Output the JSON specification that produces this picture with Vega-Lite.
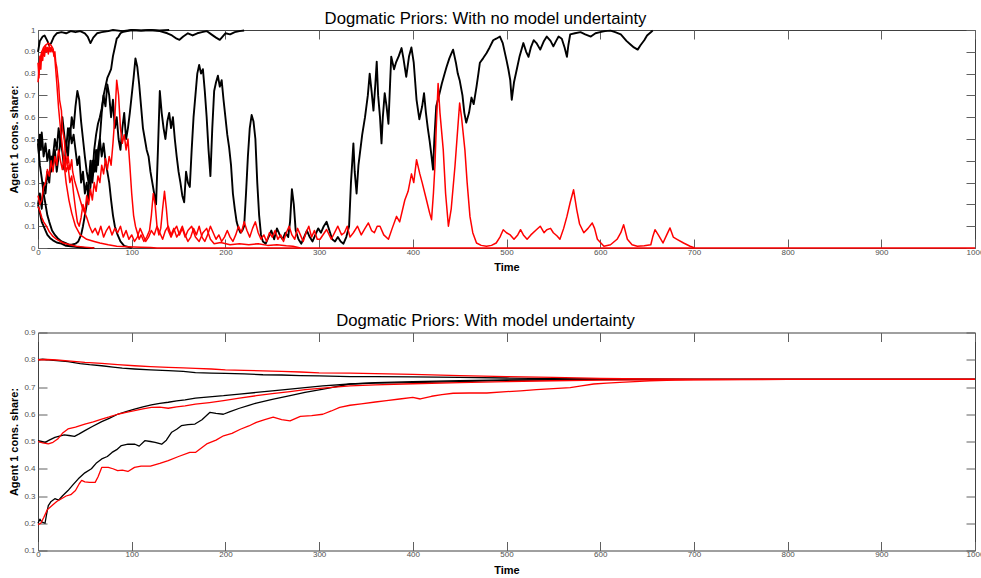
{
  "$schema": "https://vega.github.io/schema/vega-lite/v6.json",
  "background": "white",
  "padding": {"left": 8, "top": 10, "right": 0, "bottom": 0},
  "spacing": 39.5,
  "config": {
    "font": "Liberation Sans",
    "view": {"stroke": "#404040", "strokeWidth": 1},
    "axis": {
      "domain": false, "grid": false, "ticks": true,
      "tickColor": "#606060", "tickSize": -9, "tickWidth": 1,
      "labelFont": "Liberation Sans", "labelFontSize": 8, "labelColor": "#505050",
      "labelFlush": false, "labelOverlap": false,
      "titleFont": "Liberation Sans", "titleFontSize": 11, "titleFontWeight": "bold", "titleColor": "#000000"
    },
    "axisX": {"labelPadding": 9, "titlePadding": 5.5},
    "axisY": {"labelPadding": 12},
    "title": {"font": "Liberation Sans", "fontSize": 16.7, "fontWeight": "normal", "color": "#000000", "offset": -1.5, "dx": -21}
  },
  "datasets": {
    "noUncertainty": [
      {"set":"A","run":1,"t":0,"v":0.9},{"set":"A","run":1,"t":2,"v":0.95},{"set":"A","run":1,"t":5,"v":0.97},{"set":"A","run":1,"t":7,"v":0.975},{"set":"A","run":1,"t":10,"v":0.95},{"set":"A","run":1,"t":12,"v":0.93},{"set":"A","run":1,"t":14,"v":0.94},{"set":"A","run":1,"t":17,"v":0.97},{"set":"A","run":1,"t":20,"v":0.985},{"set":"A","run":1,"t":25,"v":0.99},{"set":"A","run":1,"t":30,"v":0.985},{"set":"A","run":1,"t":35,"v":0.995},{"set":"A","run":1,"t":40,"v":0.99},{"set":"A","run":1,"t":45,"v":0.995},{"set":"A","run":1,"t":50,"v":0.985},{"set":"A","run":1,"t":53,"v":0.97},{"set":"A","run":1,"t":56,"v":0.94},{"set":"A","run":1,"t":59,"v":0.965},{"set":"A","run":1,"t":63,"v":0.985},{"set":"A","run":1,"t":68,"v":0.99},{"set":"A","run":1,"t":75,"v":0.995},{"set":"A","run":1,"t":80,"v":1},{"set":"A","run":1,"t":90,"v":0.995},{"set":"A","run":1,"t":100,"v":1},{"set":"A","run":1,"t":110,"v":0.997},{"set":"A","run":1,"t":120,"v":1},{"set":"A","run":1,"t":130,"v":0.995},{"set":"A","run":1,"t":138,"v":0.985},{"set":"A","run":1,"t":143,"v":0.975},{"set":"A","run":1,"t":148,"v":0.96},{"set":"A","run":1,"t":151,"v":0.955},{"set":"A","run":1,"t":155,"v":0.97},{"set":"A","run":1,"t":160,"v":0.985},{"set":"A","run":1,"t":165,"v":0.975},{"set":"A","run":1,"t":170,"v":0.985},{"set":"A","run":1,"t":175,"v":0.99},{"set":"A","run":1,"t":180,"v":0.995},{"set":"A","run":1,"t":185,"v":0.98},{"set":"A","run":1,"t":190,"v":0.965},{"set":"A","run":1,"t":194,"v":0.955},{"set":"A","run":1,"t":197,"v":0.97},{"set":"A","run":1,"t":200,"v":0.985},{"set":"A","run":1,"t":205,"v":0.98},{"set":"A","run":1,"t":210,"v":0.99},{"set":"A","run":1,"t":215,"v":0.995},{"set":"A","run":1,"t":220,"v":0.998},

      {"set":"A","run":2,"t":0,"v":0.5},{"set":"A","run":2,"t":1,"v":0.43},{"set":"A","run":2,"t":2,"v":0.52},{"set":"A","run":2,"t":3,"v":0.45},{"set":"A","run":2,"t":4,"v":0.53},{"set":"A","run":2,"t":6,"v":0.42},{"set":"A","run":2,"t":8,"v":0.48},{"set":"A","run":2,"t":10,"v":0.4},{"set":"A","run":2,"t":12,"v":0.45},{"set":"A","run":2,"t":14,"v":0.35},{"set":"A","run":2,"t":16,"v":0.42},{"set":"A","run":2,"t":18,"v":0.5},{"set":"A","run":2,"t":20,"v":0.45},{"set":"A","run":2,"t":22,"v":0.55},{"set":"A","run":2,"t":24,"v":0.48},{"set":"A","run":2,"t":26,"v":0.6},{"set":"A","run":2,"t":28,"v":0.52},{"set":"A","run":2,"t":30,"v":0.45},{"set":"A","run":2,"t":32,"v":0.55},{"set":"A","run":2,"t":34,"v":0.5},{"set":"A","run":2,"t":36,"v":0.6},{"set":"A","run":2,"t":38,"v":0.55},{"set":"A","run":2,"t":40,"v":0.65},{"set":"A","run":2,"t":42,"v":0.72},{"set":"A","run":2,"t":44,"v":0.68},{"set":"A","run":2,"t":46,"v":0.58},{"set":"A","run":2,"t":48,"v":0.5},{"set":"A","run":2,"t":50,"v":0.42},{"set":"A","run":2,"t":52,"v":0.35},{"set":"A","run":2,"t":54,"v":0.3},{"set":"A","run":2,"t":56,"v":0.4},{"set":"A","run":2,"t":58,"v":0.33},{"set":"A","run":2,"t":60,"v":0.45},{"set":"A","run":2,"t":62,"v":0.52},{"set":"A","run":2,"t":64,"v":0.57},{"set":"A","run":2,"t":66,"v":0.6},{"set":"A","run":2,"t":68,"v":0.64},{"set":"A","run":2,"t":70,"v":0.7},{"set":"A","run":2,"t":72,"v":0.74},{"set":"A","run":2,"t":74,"v":0.78},{"set":"A","run":2,"t":76,"v":0.8},{"set":"A","run":2,"t":78,"v":0.82},{"set":"A","run":2,"t":80,"v":0.88},{"set":"A","run":2,"t":82,"v":0.92},{"set":"A","run":2,"t":84,"v":0.96},{"set":"A","run":2,"t":86,"v":0.97},{"set":"A","run":2,"t":88,"v":0.985},{"set":"A","run":2,"t":90,"v":0.99},{"set":"A","run":2,"t":95,"v":0.995},{"set":"A","run":2,"t":100,"v":1},{"set":"A","run":2,"t":110,"v":0.998},{"set":"A","run":2,"t":120,"v":1},{"set":"A","run":2,"t":130,"v":0.998},{"set":"A","run":2,"t":140,"v":1},

      {"set":"A","run":3,"t":0,"v":0.2},{"set":"A","run":3,"t":2,"v":0.25},{"set":"A","run":3,"t":4,"v":0.18},{"set":"A","run":3,"t":6,"v":0.3},{"set":"A","run":3,"t":8,"v":0.25},{"set":"A","run":3,"t":10,"v":0.35},{"set":"A","run":3,"t":12,"v":0.3},{"set":"A","run":3,"t":14,"v":0.42},{"set":"A","run":3,"t":16,"v":0.38},{"set":"A","run":3,"t":18,"v":0.45},{"set":"A","run":3,"t":20,"v":0.35},{"set":"A","run":3,"t":22,"v":0.42},{"set":"A","run":3,"t":24,"v":0.5},{"set":"A","run":3,"t":26,"v":0.44},{"set":"A","run":3,"t":28,"v":0.36},{"set":"A","run":3,"t":30,"v":0.48},{"set":"A","run":3,"t":32,"v":0.42},{"set":"A","run":3,"t":34,"v":0.55},{"set":"A","run":3,"t":36,"v":0.48},{"set":"A","run":3,"t":38,"v":0.52},{"set":"A","run":3,"t":40,"v":0.45},{"set":"A","run":3,"t":42,"v":0.38},{"set":"A","run":3,"t":44,"v":0.42},{"set":"A","run":3,"t":46,"v":0.3},{"set":"A","run":3,"t":48,"v":0.35},{"set":"A","run":3,"t":50,"v":0.25},{"set":"A","run":3,"t":52,"v":0.3},{"set":"A","run":3,"t":54,"v":0.22},{"set":"A","run":3,"t":56,"v":0.28},{"set":"A","run":3,"t":58,"v":0.4},{"set":"A","run":3,"t":60,"v":0.35},{"set":"A","run":3,"t":62,"v":0.45},{"set":"A","run":3,"t":64,"v":0.38},{"set":"A","run":3,"t":66,"v":0.5},{"set":"A","run":3,"t":68,"v":0.62},{"set":"A","run":3,"t":70,"v":0.7},{"set":"A","run":3,"t":72,"v":0.65},{"set":"A","run":3,"t":74,"v":0.75},{"set":"A","run":3,"t":76,"v":0.7},{"set":"A","run":3,"t":78,"v":0.6},{"set":"A","run":3,"t":80,"v":0.68},{"set":"A","run":3,"t":82,"v":0.55},{"set":"A","run":3,"t":84,"v":0.6},{"set":"A","run":3,"t":86,"v":0.5},{"set":"A","run":3,"t":88,"v":0.45},{"set":"A","run":3,"t":90,"v":0.55},{"set":"A","run":3,"t":92,"v":0.62},{"set":"A","run":3,"t":94,"v":0.5},{"set":"A","run":3,"t":96,"v":0.55},{"set":"A","run":3,"t":98,"v":0.62},{"set":"A","run":3,"t":100,"v":0.7},{"set":"A","run":3,"t":102,"v":0.78},{"set":"A","run":3,"t":104,"v":0.87},{"set":"A","run":3,"t":106,"v":0.83},{"set":"A","run":3,"t":108,"v":0.75},{"set":"A","run":3,"t":110,"v":0.65},{"set":"A","run":3,"t":112,"v":0.55},{"set":"A","run":3,"t":114,"v":0.5},{"set":"A","run":3,"t":116,"v":0.45},{"set":"A","run":3,"t":118,"v":0.42},{"set":"A","run":3,"t":120,"v":0.35},{"set":"A","run":3,"t":122,"v":0.3},{"set":"A","run":3,"t":124,"v":0.25},{"set":"A","run":3,"t":126,"v":0.2},{"set":"A","run":3,"t":128,"v":0.45},{"set":"A","run":3,"t":130,"v":0.72},{"set":"A","run":3,"t":132,"v":0.62},{"set":"A","run":3,"t":134,"v":0.55},{"set":"A","run":3,"t":136,"v":0.5},{"set":"A","run":3,"t":138,"v":0.58},{"set":"A","run":3,"t":140,"v":0.62},{"set":"A","run":3,"t":142,"v":0.55},{"set":"A","run":3,"t":144,"v":0.6},{"set":"A","run":3,"t":146,"v":0.5},{"set":"A","run":3,"t":148,"v":0.42},{"set":"A","run":3,"t":150,"v":0.35},{"set":"A","run":3,"t":152,"v":0.3},{"set":"A","run":3,"t":154,"v":0.24},{"set":"A","run":3,"t":156,"v":0.21},{"set":"A","run":3,"t":158,"v":0.35},{"set":"A","run":3,"t":160,"v":0.3},{"set":"A","run":3,"t":162,"v":0.28},{"set":"A","run":3,"t":164,"v":0.45},{"set":"A","run":3,"t":166,"v":0.6},{"set":"A","run":3,"t":168,"v":0.7},{"set":"A","run":3,"t":170,"v":0.8},{"set":"A","run":3,"t":172,"v":0.84},{"set":"A","run":3,"t":174,"v":0.8},{"set":"A","run":3,"t":176,"v":0.82},{"set":"A","run":3,"t":178,"v":0.72},{"set":"A","run":3,"t":180,"v":0.6},{"set":"A","run":3,"t":182,"v":0.45},{"set":"A","run":3,"t":184,"v":0.33},{"set":"A","run":3,"t":186,"v":0.55},{"set":"A","run":3,"t":188,"v":0.72},{"set":"A","run":3,"t":190,"v":0.76},{"set":"A","run":3,"t":192,"v":0.79},{"set":"A","run":3,"t":194,"v":0.74},{"set":"A","run":3,"t":196,"v":0.77},{"set":"A","run":3,"t":198,"v":0.68},{"set":"A","run":3,"t":200,"v":0.6},{"set":"A","run":3,"t":202,"v":0.52},{"set":"A","run":3,"t":204,"v":0.46},{"set":"A","run":3,"t":206,"v":0.38},{"set":"A","run":3,"t":208,"v":0.25},{"set":"A","run":3,"t":210,"v":0.18},{"set":"A","run":3,"t":212,"v":0.12},{"set":"A","run":3,"t":214,"v":0.09},{"set":"A","run":3,"t":216,"v":0.07},{"set":"A","run":3,"t":218,"v":0.08},{"set":"A","run":3,"t":220,"v":0.1},{"set":"A","run":3,"t":222,"v":0.25},{"set":"A","run":3,"t":224,"v":0.42},{"set":"A","run":3,"t":226,"v":0.55},{"set":"A","run":3,"t":228,"v":0.61},{"set":"A","run":3,"t":230,"v":0.58},{"set":"A","run":3,"t":232,"v":0.5},{"set":"A","run":3,"t":234,"v":0.3},{"set":"A","run":3,"t":236,"v":0.15},{"set":"A","run":3,"t":238,"v":0.06},{"set":"A","run":3,"t":240,"v":0.03},{"set":"A","run":3,"t":243,"v":0.02},{"set":"A","run":3,"t":246,"v":0.05},{"set":"A","run":3,"t":249,"v":0.08},{"set":"A","run":3,"t":252,"v":0.04},{"set":"A","run":3,"t":255,"v":0.09},{"set":"A","run":3,"t":258,"v":0.06},{"set":"A","run":3,"t":261,"v":0.04},{"set":"A","run":3,"t":264,"v":0.07},{"set":"A","run":3,"t":267,"v":0.05},{"set":"A","run":3,"t":269,"v":0.12},{"set":"A","run":3,"t":271,"v":0.27},{"set":"A","run":3,"t":273,"v":0.2},{"set":"A","run":3,"t":275,"v":0.08},{"set":"A","run":3,"t":278,"v":0.04},{"set":"A","run":3,"t":281,"v":0.02},{"set":"A","run":3,"t":284,"v":0.05},{"set":"A","run":3,"t":287,"v":0.08},{"set":"A","run":3,"t":290,"v":0.05},{"set":"A","run":3,"t":293,"v":0.03},{"set":"A","run":3,"t":296,"v":0.06},{"set":"A","run":3,"t":299,"v":0.09},{"set":"A","run":3,"t":302,"v":0.07},{"set":"A","run":3,"t":305,"v":0.1},{"set":"A","run":3,"t":308,"v":0.12},{"set":"A","run":3,"t":311,"v":0.08},{"set":"A","run":3,"t":314,"v":0.04},{"set":"A","run":3,"t":317,"v":0.03},{"set":"A","run":3,"t":320,"v":0.05},{"set":"A","run":3,"t":323,"v":0.03},{"set":"A","run":3,"t":326,"v":0.02},{"set":"A","run":3,"t":329,"v":0.05},{"set":"A","run":3,"t":332,"v":0.1},{"set":"A","run":3,"t":334,"v":0.3},{"set":"A","run":3,"t":336.6,"v":0.48},{"set":"A","run":3,"t":338,"v":0.35},{"set":"A","run":3,"t":340,"v":0.25},{"set":"A","run":3,"t":342,"v":0.38},{"set":"A","run":3,"t":344,"v":0.45},{"set":"A","run":3,"t":346,"v":0.52},{"set":"A","run":3,"t":349,"v":0.6},{"set":"A","run":3,"t":352,"v":0.7},{"set":"A","run":3,"t":354,"v":0.8},{"set":"A","run":3,"t":356,"v":0.72},{"set":"A","run":3,"t":358,"v":0.63},{"set":"A","run":3,"t":360,"v":0.75},{"set":"A","run":3,"t":361.5,"v":0.855},{"set":"A","run":3,"t":363,"v":0.7},{"set":"A","run":3,"t":365,"v":0.6},{"set":"A","run":3,"t":366.6,"v":0.48},{"set":"A","run":3,"t":368,"v":0.6},{"set":"A","run":3,"t":370,"v":0.71},{"set":"A","run":3,"t":372,"v":0.65},{"set":"A","run":3,"t":374,"v":0.57},{"set":"A","run":3,"t":376,"v":0.78},{"set":"A","run":3,"t":377,"v":0.878},{"set":"A","run":3,"t":380,"v":0.82},{"set":"A","run":3,"t":382,"v":0.85},{"set":"A","run":3,"t":385,"v":0.88},{"set":"A","run":3,"t":388,"v":0.917},{"set":"A","run":3,"t":390,"v":0.87},{"set":"A","run":3,"t":393,"v":0.785},{"set":"A","run":3,"t":396,"v":0.88},{"set":"A","run":3,"t":398.5,"v":0.92},{"set":"A","run":3,"t":401,"v":0.85},{"set":"A","run":3,"t":404,"v":0.68},{"set":"A","run":3,"t":407,"v":0.59},{"set":"A","run":3,"t":410,"v":0.65},{"set":"A","run":3,"t":412,"v":0.71},{"set":"A","run":3,"t":414,"v":0.62},{"set":"A","run":3,"t":416,"v":0.55},{"set":"A","run":3,"t":418,"v":0.49},{"set":"A","run":3,"t":420,"v":0.42},{"set":"A","run":3,"t":421.6,"v":0.36},{"set":"A","run":3,"t":423,"v":0.5},{"set":"A","run":3,"t":425,"v":0.65},{"set":"A","run":3,"t":428,"v":0.7},{"set":"A","run":3,"t":431,"v":0.755},{"set":"A","run":3,"t":434,"v":0.8},{"set":"A","run":3,"t":436,"v":0.83},{"set":"A","run":3,"t":439,"v":0.87},{"set":"A","run":3,"t":441,"v":0.89},{"set":"A","run":3,"t":443,"v":0.91},{"set":"A","run":3,"t":446,"v":0.85},{"set":"A","run":3,"t":448,"v":0.8},{"set":"A","run":3,"t":450,"v":0.77},{"set":"A","run":3,"t":453,"v":0.7},{"set":"A","run":3,"t":455,"v":0.62},{"set":"A","run":3,"t":457,"v":0.575},{"set":"A","run":3,"t":460,"v":0.62},{"set":"A","run":3,"t":462.6,"v":0.69},{"set":"A","run":3,"t":465,"v":0.66},{"set":"A","run":3,"t":468,"v":0.74},{"set":"A","run":3,"t":470,"v":0.8},{"set":"A","run":3,"t":471.6,"v":0.85},{"set":"A","run":3,"t":475,"v":0.87},{"set":"A","run":3,"t":478.6,"v":0.893},{"set":"A","run":3,"t":482,"v":0.92},{"set":"A","run":3,"t":485.8,"v":0.953},{"set":"A","run":3,"t":489,"v":0.96},{"set":"A","run":3,"t":493,"v":0.97},{"set":"A","run":3,"t":496,"v":0.94},{"set":"A","run":3,"t":500,"v":0.862},{"set":"A","run":3,"t":502,"v":0.82},{"set":"A","run":3,"t":504,"v":0.77},{"set":"A","run":3,"t":505.6,"v":0.68},{"set":"A","run":3,"t":508,"v":0.76},{"set":"A","run":3,"t":511,"v":0.82},{"set":"A","run":3,"t":514,"v":0.88},{"set":"A","run":3,"t":518,"v":0.94},{"set":"A","run":3,"t":521,"v":0.9},{"set":"A","run":3,"t":523.5,"v":0.877},{"set":"A","run":3,"t":526,"v":0.92},{"set":"A","run":3,"t":529,"v":0.953},{"set":"A","run":3,"t":532,"v":0.94},{"set":"A","run":3,"t":536,"v":0.91},{"set":"A","run":3,"t":540,"v":0.95},{"set":"A","run":3,"t":543,"v":0.97},{"set":"A","run":3,"t":547,"v":0.95},{"set":"A","run":3,"t":550,"v":0.925},{"set":"A","run":3,"t":553,"v":0.95},{"set":"A","run":3,"t":555.6,"v":0.97},{"set":"A","run":3,"t":559,"v":0.96},{"set":"A","run":3,"t":562,"v":0.92},{"set":"A","run":3,"t":564.5,"v":0.877},{"set":"A","run":3,"t":566,"v":0.93},{"set":"A","run":3,"t":568,"v":0.98},{"set":"A","run":3,"t":573,"v":0.985},{"set":"A","run":3,"t":579,"v":0.99},{"set":"A","run":3,"t":584,"v":0.98},{"set":"A","run":3,"t":590,"v":0.97},{"set":"A","run":3,"t":595,"v":0.985},{"set":"A","run":3,"t":600,"v":0.99},{"set":"A","run":3,"t":605,"v":0.995},{"set":"A","run":3,"t":611,"v":0.997},{"set":"A","run":3,"t":616,"v":0.99},{"set":"A","run":3,"t":622,"v":0.98},{"set":"A","run":3,"t":625,"v":0.965},{"set":"A","run":3,"t":628,"v":0.95},{"set":"A","run":3,"t":632,"v":0.935},{"set":"A","run":3,"t":636,"v":0.92},{"set":"A","run":3,"t":640,"v":0.91},{"set":"A","run":3,"t":643,"v":0.93},{"set":"A","run":3,"t":647,"v":0.953},{"set":"A","run":3,"t":650,"v":0.975},{"set":"A","run":3,"t":654,"v":0.99},{"set":"A","run":3,"t":656,"v":0.998},

      {"set":"A","run":4,"t":0,"v":0.2},{"set":"A","run":4,"t":2,"v":0.16},{"set":"A","run":4,"t":4,"v":0.12},{"set":"A","run":4,"t":6,"v":0.1},{"set":"A","run":4,"t":8,"v":0.08},{"set":"A","run":4,"t":10,"v":0.06},{"set":"A","run":4,"t":13,"v":0.045},{"set":"A","run":4,"t":16,"v":0.035},{"set":"A","run":4,"t":20,"v":0.025},{"set":"A","run":4,"t":25,"v":0.02},{"set":"A","run":4,"t":30,"v":0.01},{"set":"A","run":4,"t":35,"v":0.008},{"set":"A","run":4,"t":40,"v":0.005},{"set":"A","run":4,"t":50,"v":0},{"set":"A","run":4,"t":60,"v":0},

      {"set":"A","run":5,"t":0,"v":0.48},{"set":"A","run":5,"t":2,"v":0.38},{"set":"A","run":5,"t":4,"v":0.32},{"set":"A","run":5,"t":6,"v":0.25},{"set":"A","run":5,"t":8,"v":0.2},{"set":"A","run":5,"t":10,"v":0.15},{"set":"A","run":5,"t":12,"v":0.12},{"set":"A","run":5,"t":15,"v":0.08},{"set":"A","run":5,"t":18,"v":0.06},{"set":"A","run":5,"t":21,"v":0.045},{"set":"A","run":5,"t":25,"v":0.03},{"set":"A","run":5,"t":29,"v":0.023},{"set":"A","run":5,"t":33,"v":0.015},{"set":"A","run":5,"t":36,"v":0.015},{"set":"A","run":5,"t":40,"v":0.02},{"set":"A","run":5,"t":43,"v":0.03},{"set":"A","run":5,"t":46,"v":0.06},{"set":"A","run":5,"t":48,"v":0.1},{"set":"A","run":5,"t":50,"v":0.15},{"set":"A","run":5,"t":52,"v":0.2},{"set":"A","run":5,"t":54,"v":0.28},{"set":"A","run":5,"t":56,"v":0.35},{"set":"A","run":5,"t":58,"v":0.3},{"set":"A","run":5,"t":60,"v":0.4},{"set":"A","run":5,"t":62,"v":0.35},{"set":"A","run":5,"t":64,"v":0.45},{"set":"A","run":5,"t":66,"v":0.5},{"set":"A","run":5,"t":68,"v":0.42},{"set":"A","run":5,"t":70,"v":0.48},{"set":"A","run":5,"t":72,"v":0.4},{"set":"A","run":5,"t":74,"v":0.35},{"set":"A","run":5,"t":76,"v":0.3},{"set":"A","run":5,"t":78,"v":0.22},{"set":"A","run":5,"t":80,"v":0.15},{"set":"A","run":5,"t":82,"v":0.1},{"set":"A","run":5,"t":85,"v":0.06},{"set":"A","run":5,"t":88,"v":0.03},{"set":"A","run":5,"t":92,"v":0.01},{"set":"A","run":5,"t":96,"v":0.005},{"set":"A","run":5,"t":100,"v":0},

      {"set":"B","run":1,"t":0,"v":0.76},{"set":"B","run":1,"t":1,"v":0.82},{"set":"B","run":1,"t":2,"v":0.86},{"set":"B","run":1,"t":4,"v":0.9},{"set":"B","run":1,"t":6,"v":0.92},{"set":"B","run":1,"t":8,"v":0.93},{"set":"B","run":1,"t":11,"v":0.94},{"set":"B","run":1,"t":14,"v":0.93},{"set":"B","run":1,"t":16,"v":0.915},{"set":"B","run":1,"t":18,"v":0.87},{"set":"B","run":1,"t":20,"v":0.76},{"set":"B","run":1,"t":22,"v":0.64},{"set":"B","run":1,"t":24,"v":0.55},{"set":"B","run":1,"t":27,"v":0.42},{"set":"B","run":1,"t":30,"v":0.3},{"set":"B","run":1,"t":33,"v":0.22},{"set":"B","run":1,"t":36,"v":0.16},{"set":"B","run":1,"t":40,"v":0.1},{"set":"B","run":1,"t":45,"v":0.06},{"set":"B","run":1,"t":52,"v":0.04},{"set":"B","run":1,"t":60,"v":0.03},{"set":"B","run":1,"t":66,"v":0.023},{"set":"B","run":1,"t":75,"v":0.015},{"set":"B","run":1,"t":84,"v":0.008},{"set":"B","run":1,"t":95,"v":0.006},{"set":"B","run":1,"t":110,"v":0.004},{"set":"B","run":1,"t":120,"v":0.002},{"set":"B","run":1,"t":127,"v":0},{"set":"B","run":1,"t":1000,"v":0},

      {"set":"B","run":2,"t":0,"v":0.85},{"set":"B","run":2,"t":1,"v":0.78},{"set":"B","run":2,"t":2,"v":0.88},{"set":"B","run":2,"t":3,"v":0.82},{"set":"B","run":2,"t":4,"v":0.9},{"set":"B","run":2,"t":5,"v":0.86},{"set":"B","run":2,"t":6,"v":0.92},{"set":"B","run":2,"t":7,"v":0.88},{"set":"B","run":2,"t":8,"v":0.93},{"set":"B","run":2,"t":9,"v":0.9},{"set":"B","run":2,"t":10,"v":0.92},{"set":"B","run":2,"t":11,"v":0.89},{"set":"B","run":2,"t":12,"v":0.93},{"set":"B","run":2,"t":13,"v":0.9},{"set":"B","run":2,"t":14,"v":0.92},{"set":"B","run":2,"t":15,"v":0.9},{"set":"B","run":2,"t":16,"v":0.91},{"set":"B","run":2,"t":17,"v":0.88},{"set":"B","run":2,"t":18,"v":0.9},{"set":"B","run":2,"t":19,"v":0.85},{"set":"B","run":2,"t":20,"v":0.83},{"set":"B","run":2,"t":22,"v":0.75},{"set":"B","run":2,"t":23,"v":0.68},{"set":"B","run":2,"t":25,"v":0.63},{"set":"B","run":2,"t":26,"v":0.55},{"set":"B","run":2,"t":28,"v":0.5},{"set":"B","run":2,"t":29,"v":0.45},{"set":"B","run":2,"t":31,"v":0.38},{"set":"B","run":2,"t":32,"v":0.42},{"set":"B","run":2,"t":34,"v":0.36},{"set":"B","run":2,"t":36,"v":0.405},{"set":"B","run":2,"t":37,"v":0.35},{"set":"B","run":2,"t":39,"v":0.31},{"set":"B","run":2,"t":41,"v":0.28},{"set":"B","run":2,"t":43,"v":0.25},{"set":"B","run":2,"t":45,"v":0.22},{"set":"B","run":2,"t":47,"v":0.19},{"set":"B","run":2,"t":50,"v":0.16},{"set":"B","run":2,"t":52,"v":0.14},{"set":"B","run":2,"t":55,"v":0.1},{"set":"B","run":2,"t":58,"v":0.07},{"set":"B","run":2,"t":61,"v":0.09},{"set":"B","run":2,"t":64,"v":0.06},{"set":"B","run":2,"t":67,"v":0.1},{"set":"B","run":2,"t":70,"v":0.05},{"set":"B","run":2,"t":73,"v":0.08},{"set":"B","run":2,"t":76,"v":0.1},{"set":"B","run":2,"t":79,"v":0.06},{"set":"B","run":2,"t":82,"v":0.09},{"set":"B","run":2,"t":85,"v":0.07},{"set":"B","run":2,"t":88,"v":0.1},{"set":"B","run":2,"t":91,"v":0.05},{"set":"B","run":2,"t":94,"v":0.08},{"set":"B","run":2,"t":97,"v":0.04},{"set":"B","run":2,"t":100,"v":0.06},{"set":"B","run":2,"t":103,"v":0.03},{"set":"B","run":2,"t":106,"v":0.05},{"set":"B","run":2,"t":109,"v":0.09},{"set":"B","run":2,"t":112,"v":0.06},{"set":"B","run":2,"t":115,"v":0.03},{"set":"B","run":2,"t":118,"v":0.05},{"set":"B","run":2,"t":121,"v":0.08},{"set":"B","run":2,"t":124,"v":0.06},{"set":"B","run":2,"t":127,"v":0.1},{"set":"B","run":2,"t":130,"v":0.07},{"set":"B","run":2,"t":133,"v":0.04},{"set":"B","run":2,"t":136,"v":0.08},{"set":"B","run":2,"t":139,"v":0.1},{"set":"B","run":2,"t":142,"v":0.06},{"set":"B","run":2,"t":145,"v":0.09},{"set":"B","run":2,"t":148,"v":0.05},{"set":"B","run":2,"t":151,"v":0.07},{"set":"B","run":2,"t":154,"v":0.1},{"set":"B","run":2,"t":157,"v":0.06},{"set":"B","run":2,"t":160,"v":0.03},{"set":"B","run":2,"t":163,"v":0.05},{"set":"B","run":2,"t":166,"v":0.09},{"set":"B","run":2,"t":169,"v":0.06},{"set":"B","run":2,"t":172,"v":0.1},{"set":"B","run":2,"t":175,"v":0.05},{"set":"B","run":2,"t":178,"v":0.03},{"set":"B","run":2,"t":181,"v":0.06},{"set":"B","run":2,"t":184,"v":0.1},{"set":"B","run":2,"t":187,"v":0.07},{"set":"B","run":2,"t":190,"v":0.04},{"set":"B","run":2,"t":193,"v":0.06},{"set":"B","run":2,"t":196,"v":0.03},{"set":"B","run":2,"t":199,"v":0.05},{"set":"B","run":2,"t":202,"v":0.08},{"set":"B","run":2,"t":205,"v":0.05},{"set":"B","run":2,"t":208,"v":0.03},{"set":"B","run":2,"t":211,"v":0.06},{"set":"B","run":2,"t":214,"v":0.1},{"set":"B","run":2,"t":217,"v":0.07},{"set":"B","run":2,"t":220,"v":0.12},{"set":"B","run":2,"t":223,"v":0.08},{"set":"B","run":2,"t":226,"v":0.05},{"set":"B","run":2,"t":229,"v":0.09},{"set":"B","run":2,"t":232,"v":0.12},{"set":"B","run":2,"t":235,"v":0.07},{"set":"B","run":2,"t":238,"v":0.04},{"set":"B","run":2,"t":241,"v":0.06},{"set":"B","run":2,"t":244,"v":0.03},{"set":"B","run":2,"t":247,"v":0.07},{"set":"B","run":2,"t":250,"v":0.05},{"set":"B","run":2,"t":253,"v":0.08},{"set":"B","run":2,"t":256,"v":0.04},{"set":"B","run":2,"t":259,"v":0.06},{"set":"B","run":2,"t":262,"v":0.03},{"set":"B","run":2,"t":265,"v":0.07},{"set":"B","run":2,"t":268,"v":0.1},{"set":"B","run":2,"t":271,"v":0.06},{"set":"B","run":2,"t":274,"v":0.04},{"set":"B","run":2,"t":277,"v":0.09},{"set":"B","run":2,"t":280,"v":0.06},{"set":"B","run":2,"t":283,"v":0.03},{"set":"B","run":2,"t":286,"v":0.07},{"set":"B","run":2,"t":289,"v":0.1},{"set":"B","run":2,"t":292,"v":0.05},{"set":"B","run":2,"t":295,"v":0.08},{"set":"B","run":2,"t":298,"v":0.04},{"set":"B","run":2,"t":301,"v":0.04},{"set":"B","run":2,"t":308,"v":0.085},{"set":"B","run":2,"t":313,"v":0.04},{"set":"B","run":2,"t":320,"v":0.1},{"set":"B","run":2,"t":324,"v":0.06},{"set":"B","run":2,"t":327,"v":0.07},{"set":"B","run":2,"t":330,"v":0.1},{"set":"B","run":2,"t":333,"v":0.05},{"set":"B","run":2,"t":336.6,"v":0.07},{"set":"B","run":2,"t":341,"v":0.1},{"set":"B","run":2,"t":345,"v":0.06},{"set":"B","run":2,"t":349,"v":0.09},{"set":"B","run":2,"t":352.6,"v":0.115},{"set":"B","run":2,"t":356,"v":0.08},{"set":"B","run":2,"t":359,"v":0.07},{"set":"B","run":2,"t":362,"v":0.1},{"set":"B","run":2,"t":365,"v":0.1},{"set":"B","run":2,"t":369,"v":0.06},{"set":"B","run":2,"t":374,"v":0.04},{"set":"B","run":2,"t":378,"v":0.09},{"set":"B","run":2,"t":382.6,"v":0.145},{"set":"B","run":2,"t":386,"v":0.12},{"set":"B","run":2,"t":391.5,"v":0.22},{"set":"B","run":2,"t":395,"v":0.26},{"set":"B","run":2,"t":398.6,"v":0.34},{"set":"B","run":2,"t":401,"v":0.3},{"set":"B","run":2,"t":404,"v":0.405},{"set":"B","run":2,"t":407.5,"v":0.34},{"set":"B","run":2,"t":410,"v":0.3},{"set":"B","run":2,"t":414.6,"v":0.22},{"set":"B","run":2,"t":418,"v":0.16},{"set":"B","run":2,"t":420,"v":0.13},{"set":"B","run":2,"t":422,"v":0.25},{"set":"B","run":2,"t":423.6,"v":0.375},{"set":"B","run":2,"t":425,"v":0.55},{"set":"B","run":2,"t":427,"v":0.755},{"set":"B","run":2,"t":429,"v":0.62},{"set":"B","run":2,"t":432.5,"v":0.45},{"set":"B","run":2,"t":435,"v":0.25},{"set":"B","run":2,"t":438,"v":0.1},{"set":"B","run":2,"t":441,"v":0.18},{"set":"B","run":2,"t":445,"v":0.375},{"set":"B","run":2,"t":448,"v":0.55},{"set":"B","run":2,"t":450,"v":0.665},{"set":"B","run":2,"t":452,"v":0.6},{"set":"B","run":2,"t":455.6,"v":0.45},{"set":"B","run":2,"t":458,"v":0.3},{"set":"B","run":2,"t":461,"v":0.145},{"set":"B","run":2,"t":464,"v":0.07},{"set":"B","run":2,"t":468,"v":0.023},{"set":"B","run":2,"t":473,"v":0.012},{"set":"B","run":2,"t":478.6,"v":0.008},{"set":"B","run":2,"t":484,"v":0.012},{"set":"B","run":2,"t":489,"v":0.023},{"set":"B","run":2,"t":493,"v":0.05},{"set":"B","run":2,"t":496.5,"v":0.084},{"set":"B","run":2,"t":500,"v":0.07},{"set":"B","run":2,"t":504,"v":0.06},{"set":"B","run":2,"t":508,"v":0.04},{"set":"B","run":2,"t":512,"v":0.06},{"set":"B","run":2,"t":515,"v":0.084},{"set":"B","run":2,"t":518,"v":0.06},{"set":"B","run":2,"t":522,"v":0.04},{"set":"B","run":2,"t":526,"v":0.06},{"set":"B","run":2,"t":531,"v":0.08},{"set":"B","run":2,"t":536,"v":0.1},{"set":"B","run":2,"t":540,"v":0.07},{"set":"B","run":2,"t":543,"v":0.084},{"set":"B","run":2,"t":547,"v":0.09},{"set":"B","run":2,"t":550,"v":0.07},{"set":"B","run":2,"t":554,"v":0.055},{"set":"B","run":2,"t":557,"v":0.04},{"set":"B","run":2,"t":561,"v":0.09},{"set":"B","run":2,"t":564.5,"v":0.145},{"set":"B","run":2,"t":568,"v":0.21},{"set":"B","run":2,"t":571.6,"v":0.267},{"set":"B","run":2,"t":575,"v":0.175},{"set":"B","run":2,"t":578,"v":0.11},{"set":"B","run":2,"t":582.5,"v":0.07},{"set":"B","run":2,"t":587,"v":0.09},{"set":"B","run":2,"t":591.5,"v":0.115},{"set":"B","run":2,"t":594,"v":0.09},{"set":"B","run":2,"t":597,"v":0.04},{"set":"B","run":2,"t":604,"v":0.008},{"set":"B","run":2,"t":611,"v":0.015},{"set":"B","run":2,"t":618,"v":0.04},{"set":"B","run":2,"t":622,"v":0.07},{"set":"B","run":2,"t":625,"v":0.107},{"set":"B","run":2,"t":629,"v":0.04},{"set":"B","run":2,"t":634,"v":0.015},{"set":"B","run":2,"t":639.6,"v":0.008},{"set":"B","run":2,"t":647,"v":0.01},{"set":"B","run":2,"t":654,"v":0.015},{"set":"B","run":2,"t":656,"v":0.05},{"set":"B","run":2,"t":658.5,"v":0.084},{"set":"B","run":2,"t":662,"v":0.06},{"set":"B","run":2,"t":667,"v":0.023},{"set":"B","run":2,"t":671,"v":0.06},{"set":"B","run":2,"t":674.5,"v":0.092},{"set":"B","run":2,"t":678,"v":0.05},{"set":"B","run":2,"t":682,"v":0.04},{"set":"B","run":2,"t":689,"v":0.023},{"set":"B","run":2,"t":696,"v":0.008},{"set":"B","run":2,"t":701,"v":0},

      {"set":"B","run":3,"t":0,"v":0.24},{"set":"B","run":3,"t":2,"v":0.2},{"set":"B","run":3,"t":4,"v":0.22},{"set":"B","run":3,"t":6,"v":0.28},{"set":"B","run":3,"t":8,"v":0.3},{"set":"B","run":3,"t":10,"v":0.36},{"set":"B","run":3,"t":12,"v":0.33},{"set":"B","run":3,"t":14,"v":0.4},{"set":"B","run":3,"t":16,"v":0.35},{"set":"B","run":3,"t":18,"v":0.42},{"set":"B","run":3,"t":20,"v":0.38},{"set":"B","run":3,"t":22,"v":0.45},{"set":"B","run":3,"t":24,"v":0.4},{"set":"B","run":3,"t":26,"v":0.36},{"set":"B","run":3,"t":28,"v":0.42},{"set":"B","run":3,"t":30,"v":0.35},{"set":"B","run":3,"t":32,"v":0.38},{"set":"B","run":3,"t":34,"v":0.3},{"set":"B","run":3,"t":36,"v":0.33},{"set":"B","run":3,"t":38,"v":0.25},{"set":"B","run":3,"t":40,"v":0.18},{"set":"B","run":3,"t":42,"v":0.12},{"set":"B","run":3,"t":44,"v":0.1},{"set":"B","run":3,"t":46,"v":0.14},{"set":"B","run":3,"t":48,"v":0.2},{"set":"B","run":3,"t":50,"v":0.16},{"set":"B","run":3,"t":52,"v":0.24},{"set":"B","run":3,"t":54,"v":0.2},{"set":"B","run":3,"t":56,"v":0.27},{"set":"B","run":3,"t":58,"v":0.22},{"set":"B","run":3,"t":60,"v":0.3},{"set":"B","run":3,"t":62,"v":0.26},{"set":"B","run":3,"t":64,"v":0.33},{"set":"B","run":3,"t":66,"v":0.3},{"set":"B","run":3,"t":68,"v":0.38},{"set":"B","run":3,"t":70,"v":0.34},{"set":"B","run":3,"t":72,"v":0.41},{"set":"B","run":3,"t":74,"v":0.36},{"set":"B","run":3,"t":76,"v":0.42},{"set":"B","run":3,"t":78,"v":0.38},{"set":"B","run":3,"t":80,"v":0.48},{"set":"B","run":3,"t":82,"v":0.6},{"set":"B","run":3,"t":84,"v":0.77},{"set":"B","run":3,"t":86,"v":0.7},{"set":"B","run":3,"t":88,"v":0.55},{"set":"B","run":3,"t":90,"v":0.48},{"set":"B","run":3,"t":92,"v":0.52},{"set":"B","run":3,"t":94,"v":0.45},{"set":"B","run":3,"t":96,"v":0.5},{"set":"B","run":3,"t":98,"v":0.38},{"set":"B","run":3,"t":100,"v":0.25},{"set":"B","run":3,"t":102,"v":0.15},{"set":"B","run":3,"t":104,"v":0.1},{"set":"B","run":3,"t":106,"v":0.07},{"set":"B","run":3,"t":108,"v":0.04},{"set":"B","run":3,"t":110,"v":0.06},{"set":"B","run":3,"t":113,"v":0.03},{"set":"B","run":3,"t":116,"v":0.05},{"set":"B","run":3,"t":119,"v":0.08},{"set":"B","run":3,"t":121,"v":0.15},{"set":"B","run":3,"t":123,"v":0.25},{"set":"B","run":3,"t":125,"v":0.2},{"set":"B","run":3,"t":127,"v":0.1},{"set":"B","run":3,"t":129,"v":0.06},{"set":"B","run":3,"t":131,"v":0.09},{"set":"B","run":3,"t":133,"v":0.18},{"set":"B","run":3,"t":135,"v":0.26},{"set":"B","run":3,"t":137,"v":0.18},{"set":"B","run":3,"t":139,"v":0.08},{"set":"B","run":3,"t":142,"v":0.05},{"set":"B","run":3,"t":145,"v":0.08},{"set":"B","run":3,"t":148,"v":0.1},{"set":"B","run":3,"t":151,"v":0.06},{"set":"B","run":3,"t":154,"v":0.09},{"set":"B","run":3,"t":157,"v":0.05},{"set":"B","run":3,"t":160,"v":0.08},{"set":"B","run":3,"t":164,"v":0.1},{"set":"B","run":3,"t":168,"v":0.05},{"set":"B","run":3,"t":172,"v":0.03},{"set":"B","run":3,"t":176,"v":0.07},{"set":"B","run":3,"t":180,"v":0.09},{"set":"B","run":3,"t":184,"v":0.04},{"set":"B","run":3,"t":188,"v":0.02},{"set":"B","run":3,"t":195,"v":0.025},{"set":"B","run":3,"t":205,"v":0.015},{"set":"B","run":3,"t":215,"v":0.02},{"set":"B","run":3,"t":225,"v":0.015},{"set":"B","run":3,"t":235,"v":0.02},{"set":"B","run":3,"t":245,"v":0.012},{"set":"B","run":3,"t":255,"v":0.015},{"set":"B","run":3,"t":265,"v":0.01},{"set":"B","run":3,"t":272,"v":0.008},{"set":"B","run":3,"t":280,"v":0},

      {"set":"B","run":4,"t":0,"v":0.19},{"set":"B","run":4,"t":2,"v":0.17},{"set":"B","run":4,"t":4,"v":0.14},{"set":"B","run":4,"t":6,"v":0.12},{"set":"B","run":4,"t":9,"v":0.1},{"set":"B","run":4,"t":12,"v":0.075},{"set":"B","run":4,"t":16,"v":0.053},{"set":"B","run":4,"t":20,"v":0.04},{"set":"B","run":4,"t":27,"v":0.023},{"set":"B","run":4,"t":34,"v":0.015},{"set":"B","run":4,"t":41,"v":0.008},{"set":"B","run":4,"t":50,"v":0.004},{"set":"B","run":4,"t":60,"v":0}
    ],
    "withUncertainty": [
      {"set":"A","run":1,"t":0,"v":0.8},{"set":"A","run":1,"t":5,"v":0.802},{"set":"A","run":1,"t":10,"v":0.8},{"set":"A","run":1,"t":20,"v":0.797},{"set":"A","run":1,"t":32,"v":0.793},{"set":"A","run":1,"t":45,"v":0.786},{"set":"A","run":1,"t":55,"v":0.782},{"set":"A","run":1,"t":68,"v":0.778},{"set":"A","run":1,"t":80,"v":0.773},{"set":"A","run":1,"t":90,"v":0.769},{"set":"A","run":1,"t":103,"v":0.766},{"set":"A","run":1,"t":120,"v":0.763},{"set":"A","run":1,"t":139,"v":0.76},{"set":"A","run":1,"t":155,"v":0.757},{"set":"A","run":1,"t":168,"v":0.753},{"set":"A","run":1,"t":185,"v":0.751},{"set":"A","run":1,"t":200,"v":0.75},{"set":"A","run":1,"t":220,"v":0.748},{"set":"A","run":1,"t":240,"v":0.745},{"set":"A","run":1,"t":260,"v":0.744},{"set":"A","run":1,"t":280,"v":0.742},{"set":"A","run":1,"t":300,"v":0.741},{"set":"A","run":1,"t":333,"v":0.738},{"set":"A","run":1,"t":360,"v":0.738},{"set":"A","run":1,"t":400,"v":0.737},{"set":"A","run":1,"t":450,"v":0.735},{"set":"A","run":1,"t":500,"v":0.733},{"set":"A","run":1,"t":550,"v":0.731},{"set":"A","run":1,"t":600,"v":0.73},{"set":"A","run":1,"t":650,"v":0.729},{"set":"A","run":1,"t":700,"v":0.728},{"set":"A","run":1,"t":800,"v":0.728},{"set":"A","run":1,"t":1000,"v":0.728},

      {"set":"A","run":2,"t":0,"v":0.503},{"set":"A","run":2,"t":4,"v":0.5},{"set":"A","run":2,"t":7.5,"v":0.497},{"set":"A","run":2,"t":12,"v":0.505},{"set":"A","run":2,"t":18,"v":0.515},{"set":"A","run":2,"t":23,"v":0.52},{"set":"A","run":2,"t":28,"v":0.524},{"set":"A","run":2,"t":33,"v":0.522},{"set":"A","run":2,"t":39,"v":0.519},{"set":"A","run":2,"t":44,"v":0.528},{"set":"A","run":2,"t":50,"v":0.54},{"set":"A","run":2,"t":58,"v":0.555},{"set":"A","run":2,"t":68,"v":0.573},{"set":"A","run":2,"t":76,"v":0.585},{"set":"A","run":2,"t":85,"v":0.6},{"set":"A","run":2,"t":94,"v":0.61},{"set":"A","run":2,"t":103,"v":0.619},{"set":"A","run":2,"t":112,"v":0.627},{"set":"A","run":2,"t":121,"v":0.634},{"set":"A","run":2,"t":130,"v":0.64},{"set":"A","run":2,"t":139,"v":0.644},{"set":"A","run":2,"t":148,"v":0.649},{"set":"A","run":2,"t":157,"v":0.653},{"set":"A","run":2,"t":168,"v":0.659},{"set":"A","run":2,"t":183,"v":0.664},{"set":"A","run":2,"t":198,"v":0.668},{"set":"A","run":2,"t":215,"v":0.674},{"set":"A","run":2,"t":233,"v":0.68},{"set":"A","run":2,"t":250,"v":0.686},{"set":"A","run":2,"t":269,"v":0.692},{"set":"A","run":2,"t":285,"v":0.698},{"set":"A","run":2,"t":304,"v":0.704},{"set":"A","run":2,"t":333,"v":0.711},{"set":"A","run":2,"t":360,"v":0.714},{"set":"A","run":2,"t":400,"v":0.716},{"set":"A","run":2,"t":450,"v":0.72},{"set":"A","run":2,"t":500,"v":0.724},{"set":"A","run":2,"t":550,"v":0.726},{"set":"A","run":2,"t":600,"v":0.727},{"set":"A","run":2,"t":700,"v":0.728},{"set":"A","run":2,"t":1000,"v":0.728},

      {"set":"A","run":3,"t":0,"v":0.2},{"set":"A","run":3,"t":2,"v":0.215},{"set":"A","run":3,"t":4,"v":0.205},{"set":"A","run":3,"t":7.5,"v":0.2},{"set":"A","run":3,"t":9,"v":0.23},{"set":"A","run":3,"t":11,"v":0.265},{"set":"A","run":3,"t":14,"v":0.28},{"set":"A","run":3,"t":18,"v":0.29},{"set":"A","run":3,"t":22,"v":0.285},{"set":"A","run":3,"t":26,"v":0.3},{"set":"A","run":3,"t":32,"v":0.32},{"set":"A","run":3,"t":37,"v":0.34},{"set":"A","run":3,"t":43,"v":0.363},{"set":"A","run":3,"t":50,"v":0.385},{"set":"A","run":3,"t":57,"v":0.4},{"set":"A","run":3,"t":62,"v":0.42},{"set":"A","run":3,"t":68,"v":0.436},{"set":"A","run":3,"t":74,"v":0.445},{"set":"A","run":3,"t":79,"v":0.46},{"set":"A","run":3,"t":84,"v":0.47},{"set":"A","run":3,"t":89,"v":0.485},{"set":"A","run":3,"t":96,"v":0.49},{"set":"A","run":3,"t":103.5,"v":0.49},{"set":"A","run":3,"t":108,"v":0.483},{"set":"A","run":3,"t":114,"v":0.503},{"set":"A","run":3,"t":120,"v":0.5},{"set":"A","run":3,"t":125,"v":0.497},{"set":"A","run":3,"t":132,"v":0.49},{"set":"A","run":3,"t":137,"v":0.505},{"set":"A","run":3,"t":142.7,"v":0.534},{"set":"A","run":3,"t":148,"v":0.545},{"set":"A","run":3,"t":153,"v":0.558},{"set":"A","run":3,"t":160,"v":0.562},{"set":"A","run":3,"t":167.5,"v":0.564},{"set":"A","run":3,"t":175,"v":0.58},{"set":"A","run":3,"t":183.6,"v":0.607},{"set":"A","run":3,"t":190,"v":0.603},{"set":"A","run":3,"t":197.8,"v":0.6},{"set":"A","run":3,"t":205,"v":0.61},{"set":"A","run":3,"t":215,"v":0.622},{"set":"A","run":3,"t":225,"v":0.633},{"set":"A","run":3,"t":233,"v":0.641},{"set":"A","run":3,"t":250,"v":0.655},{"set":"A","run":3,"t":269,"v":0.668},{"set":"A","run":3,"t":285,"v":0.68},{"set":"A","run":3,"t":304.5,"v":0.692},{"set":"A","run":3,"t":333,"v":0.711},{"set":"A","run":3,"t":360,"v":0.716},{"set":"A","run":3,"t":400,"v":0.72},{"set":"A","run":3,"t":450,"v":0.723},{"set":"A","run":3,"t":500,"v":0.726},{"set":"A","run":3,"t":550,"v":0.727},{"set":"A","run":3,"t":600,"v":0.728},{"set":"A","run":3,"t":1000,"v":0.728},

      {"set":"B","run":1,"t":0,"v":0.8},{"set":"B","run":1,"t":10,"v":0.801},{"set":"B","run":1,"t":20,"v":0.799},{"set":"B","run":1,"t":32,"v":0.796},{"set":"B","run":1,"t":50,"v":0.79},{"set":"B","run":1,"t":68,"v":0.787},{"set":"B","run":1,"t":85,"v":0.782},{"set":"B","run":1,"t":103,"v":0.778},{"set":"B","run":1,"t":120,"v":0.775},{"set":"B","run":1,"t":139,"v":0.772},{"set":"B","run":1,"t":155,"v":0.77},{"set":"B","run":1,"t":168,"v":0.768},{"set":"B","run":1,"t":185,"v":0.766},{"set":"B","run":1,"t":200,"v":0.763},{"set":"B","run":1,"t":220,"v":0.761},{"set":"B","run":1,"t":240,"v":0.759},{"set":"B","run":1,"t":260,"v":0.757},{"set":"B","run":1,"t":280,"v":0.755},{"set":"B","run":1,"t":300,"v":0.752},{"set":"B","run":1,"t":333,"v":0.751},{"set":"B","run":1,"t":360,"v":0.749},{"set":"B","run":1,"t":400,"v":0.746},{"set":"B","run":1,"t":450,"v":0.742},{"set":"B","run":1,"t":500,"v":0.738},{"set":"B","run":1,"t":550,"v":0.735},{"set":"B","run":1,"t":600,"v":0.732},{"set":"B","run":1,"t":650,"v":0.73},{"set":"B","run":1,"t":700,"v":0.729},{"set":"B","run":1,"t":800,"v":0.728},{"set":"B","run":1,"t":1000,"v":0.728},

      {"set":"B","run":2,"t":0,"v":0.5},{"set":"B","run":2,"t":5,"v":0.495},{"set":"B","run":2,"t":11,"v":0.491},{"set":"B","run":2,"t":16,"v":0.497},{"set":"B","run":2,"t":21,"v":0.509},{"set":"B","run":2,"t":26,"v":0.53},{"set":"B","run":2,"t":32,"v":0.546},{"set":"B","run":2,"t":40,"v":0.553},{"set":"B","run":2,"t":50,"v":0.564},{"set":"B","run":2,"t":59,"v":0.572},{"set":"B","run":2,"t":68,"v":0.582},{"set":"B","run":2,"t":76,"v":0.59},{"set":"B","run":2,"t":85,"v":0.6},{"set":"B","run":2,"t":94,"v":0.607},{"set":"B","run":2,"t":103,"v":0.613},{"set":"B","run":2,"t":112,"v":0.62},{"set":"B","run":2,"t":121,"v":0.625},{"set":"B","run":2,"t":130,"v":0.626},{"set":"B","run":2,"t":139,"v":0.622},{"set":"B","run":2,"t":148,"v":0.627},{"set":"B","run":2,"t":157,"v":0.631},{"set":"B","run":2,"t":168,"v":0.637},{"set":"B","run":2,"t":183,"v":0.643},{"set":"B","run":2,"t":198,"v":0.65},{"set":"B","run":2,"t":215,"v":0.659},{"set":"B","run":2,"t":233,"v":0.668},{"set":"B","run":2,"t":250,"v":0.676},{"set":"B","run":2,"t":269,"v":0.683},{"set":"B","run":2,"t":285,"v":0.69},{"set":"B","run":2,"t":304,"v":0.696},{"set":"B","run":2,"t":333,"v":0.704},{"set":"B","run":2,"t":360,"v":0.708},{"set":"B","run":2,"t":400,"v":0.712},{"set":"B","run":2,"t":450,"v":0.716},{"set":"B","run":2,"t":500,"v":0.72},{"set":"B","run":2,"t":550,"v":0.723},{"set":"B","run":2,"t":600,"v":0.725},{"set":"B","run":2,"t":700,"v":0.727},{"set":"B","run":2,"t":800,"v":0.728},{"set":"B","run":2,"t":1000,"v":0.728},

      {"set":"B","run":3,"t":0,"v":0.195},{"set":"B","run":3,"t":3,"v":0.2},{"set":"B","run":3,"t":6,"v":0.22},{"set":"B","run":3,"t":10,"v":0.25},{"set":"B","run":3,"t":15,"v":0.265},{"set":"B","run":3,"t":20,"v":0.28},{"set":"B","run":3,"t":25,"v":0.29},{"set":"B","run":3,"t":30,"v":0.3},{"set":"B","run":3,"t":35,"v":0.305},{"set":"B","run":3,"t":40,"v":0.32},{"set":"B","run":3,"t":44,"v":0.345},{"set":"B","run":3,"t":46.6,"v":0.357},{"set":"B","run":3,"t":50,"v":0.352},{"set":"B","run":3,"t":55,"v":0.35},{"set":"B","run":3,"t":61,"v":0.35},{"set":"B","run":3,"t":64,"v":0.37},{"set":"B","run":3,"t":68,"v":0.405},{"set":"B","run":3,"t":75,"v":0.405},{"set":"B","run":3,"t":80,"v":0.4},{"set":"B","run":3,"t":85,"v":0.393},{"set":"B","run":3,"t":90,"v":0.395},{"set":"B","run":3,"t":96,"v":0.39},{"set":"B","run":3,"t":103,"v":0.405},{"set":"B","run":3,"t":110,"v":0.41},{"set":"B","run":3,"t":120,"v":0.41},{"set":"B","run":3,"t":130,"v":0.42},{"set":"B","run":3,"t":139,"v":0.43},{"set":"B","run":3,"t":150,"v":0.445},{"set":"B","run":3,"t":162,"v":0.46},{"set":"B","run":3,"t":168,"v":0.46},{"set":"B","run":3,"t":180,"v":0.491},{"set":"B","run":3,"t":190,"v":0.505},{"set":"B","run":3,"t":198,"v":0.521},{"set":"B","run":3,"t":207,"v":0.53},{"set":"B","run":3,"t":216,"v":0.545},{"set":"B","run":3,"t":225,"v":0.557},{"set":"B","run":3,"t":233,"v":0.57},{"set":"B","run":3,"t":242,"v":0.58},{"set":"B","run":3,"t":251,"v":0.589},{"set":"B","run":3,"t":260,"v":0.58},{"set":"B","run":3,"t":269,"v":0.576},{"set":"B","run":3,"t":280,"v":0.592},{"set":"B","run":3,"t":292,"v":0.595},{"set":"B","run":3,"t":304,"v":0.6},{"set":"B","run":3,"t":313,"v":0.612},{"set":"B","run":3,"t":322,"v":0.625},{"set":"B","run":3,"t":333,"v":0.633},{"set":"B","run":3,"t":345,"v":0.638},{"set":"B","run":3,"t":360,"v":0.645},{"set":"B","run":3,"t":372,"v":0.65},{"set":"B","run":3,"t":386,"v":0.656},{"set":"B","run":3,"t":400,"v":0.662},{"set":"B","run":3,"t":408,"v":0.656},{"set":"B","run":3,"t":420,"v":0.666},{"set":"B","run":3,"t":431,"v":0.672},{"set":"B","run":3,"t":443,"v":0.677},{"set":"B","run":3,"t":460,"v":0.678},{"set":"B","run":3,"t":479,"v":0.678},{"set":"B","run":3,"t":500,"v":0.683},{"set":"B","run":3,"t":515,"v":0.686},{"set":"B","run":3,"t":532,"v":0.69},{"set":"B","run":3,"t":550,"v":0.694},{"set":"B","run":3,"t":568,"v":0.698},{"set":"B","run":3,"t":580,"v":0.704},{"set":"B","run":3,"t":593,"v":0.711},{"set":"B","run":3,"t":607,"v":0.714},{"set":"B","run":3,"t":621,"v":0.717},{"set":"B","run":3,"t":637,"v":0.72},{"set":"B","run":3,"t":653,"v":0.723},{"set":"B","run":3,"t":680,"v":0.725},{"set":"B","run":3,"t":700,"v":0.726},{"set":"B","run":3,"t":750,"v":0.727},{"set":"B","run":3,"t":800,"v":0.728},{"set":"B","run":3,"t":1000,"v":0.728}
    ]
  },
  "vconcat": [
    {
      "width": 937, "height": 218,
      "title": "Dogmatic Priors: With no model undertainty",
      "data": {"name": "noUncertainty"},
      "layer": [
        {
          "transform": [{"filter": "datum.set === 'A'"}],
          "mark": {"type": "line", "color": "#000000", "strokeWidth": 1.9, "strokeJoin": "round"},
          "encoding": {
            "x": {"field": "t", "type": "quantitative", "scale": {"domain": [0, 1000]},
                  "axis": {"title": "Time", "values": [0,100,200,300,400,500,600,700,800,900,1000], "format": "d"}},
            "y": {"field": "v", "type": "quantitative", "scale": {"domain": [0, 1]},
                  "axis": {"title": "Agent 1 cons. share:", "values": [0,0.1,0.2,0.3,0.4,0.5,0.6,0.7,0.8,0.9,1], "format": "~g"}},
            "detail": {"field": "run", "type": "nominal"}
          }
        },
        {
          "transform": [{"filter": "datum.set === 'B'"}],
          "mark": {"type": "line", "color": "#ff0000", "strokeWidth": 1.5, "strokeJoin": "round"},
          "encoding": {
            "x": {"field": "t", "type": "quantitative",
                  "axis": {"orient": "top", "title": null, "labels": false, "labelPadding": 0, "titlePadding": 0, "values": [0,100,200,300,400,500,600,700,800,900,1000]}},
            "y": {"field": "v", "type": "quantitative",
                  "axis": {"orient": "right", "title": null, "labels": false, "labelPadding": 0, "titlePadding": 0, "values": [0,0.1,0.2,0.3,0.4,0.5,0.6,0.7,0.8,0.9,1]}},
            "detail": {"field": "run", "type": "nominal"}
          }
        }
      ],
      "resolve": {"axis": {"x": "independent", "y": "independent"}}
    },
    {
      "width": 937, "height": 218,
      "title": "Dogmatic Priors: With model undertainty",
      "data": {"name": "withUncertainty"},
      "layer": [
        {
          "transform": [{"filter": "datum.set === 'A'"}],
          "mark": {"type": "line", "color": "#000000", "strokeWidth": 1.3, "strokeJoin": "round"},
          "encoding": {
            "x": {"field": "t", "type": "quantitative", "scale": {"domain": [0, 1000]},
                  "axis": {"title": "Time", "values": [0,100,200,300,400,500,600,700,800,900,1000], "format": "d"}},
            "y": {"field": "v", "type": "quantitative", "scale": {"domain": [0.1, 0.9]},
                  "axis": {"title": "Agent 1 cons. share:", "values": [0.1,0.2,0.3,0.4,0.5,0.6,0.7,0.8,0.9], "format": "~g"}},
            "detail": {"field": "run", "type": "nominal"}
          }
        },
        {
          "transform": [{"filter": "datum.set === 'B'"}],
          "mark": {"type": "line", "color": "#ff0000", "strokeWidth": 1.3, "strokeJoin": "round"},
          "encoding": {
            "x": {"field": "t", "type": "quantitative",
                  "axis": {"orient": "top", "title": null, "labels": false, "labelPadding": 0, "titlePadding": 0, "values": [0,100,200,300,400,500,600,700,800,900,1000]}},
            "y": {"field": "v", "type": "quantitative",
                  "axis": {"orient": "right", "title": null, "labels": false, "labelPadding": 0, "titlePadding": 0, "values": [0.1,0.2,0.3,0.4,0.5,0.6,0.7,0.8,0.9]}},
            "detail": {"field": "run", "type": "nominal"}
          }
        }
      ],
      "resolve": {"axis": {"x": "independent", "y": "independent"}}
    }
  ]
}
